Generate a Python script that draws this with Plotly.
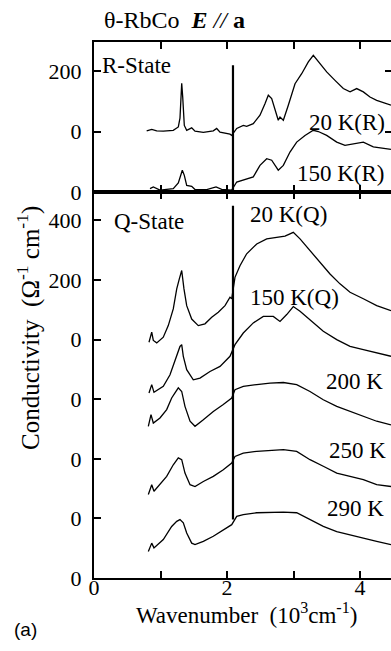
import plotly.graph_objects as go

# ---------------- data (x in 10^3 cm^-1, conductivity in ohm^-1 cm^-1) ----------------
# R-State, 20 K
x_20R = [0.792, 0.868, 0.943, 1.042, 1.192, 1.268, 1.293, 1.319, 1.334, 1.358, 1.394, 1.469, 1.519,
         1.644, 1.794, 1.845, 1.895, 2.045, 2.071,
         2.146, 2.245, 2.296, 2.395, 2.496, 2.571, 2.621, 2.672, 2.722, 2.771, 2.797, 2.847, 2.922,
         3.023, 3.123, 3.223, 3.298, 3.373, 3.499, 3.624, 3.749, 3.850, 3.950, 4.050, 4.150, 4.251,
         4.350, 4.466]
y_20R = [2, 7, 2, 1, 4, 15, 44, 159, 114, 20, 4, 12, 1,
         -3, 2, 10, -2, -9, -13,
         10, 20, 17, 26, 54, 92, 120, 109, 70, 37, 48, 37, 87,
         158, 191, 230, 252, 230, 197, 169, 142, 131, 142, 131, 114, 103,
         96, 87]

# R-State, 150 K
x_150R = [0.842, 0.892, 0.992, 1.192, 1.268, 1.293, 1.328, 1.358, 1.394, 1.469, 1.519, 1.695, 1.835,
          1.920, 2.020, 2.071,
          2.146, 2.245, 2.395, 2.496, 2.597, 2.672, 2.771, 2.847, 2.947, 3.048, 3.173, 3.298, 3.373,
          3.499, 3.650, 3.774, 3.899, 4.050, 4.200, 4.350, 4.466]
y_150R = [11, 17, 6, 11, 30, 50, 72, 55, 22, 19, 8, 8, 17,
          9, 6, 6,
          33, 39, 50, 88, 110, 105, 72, 88, 132, 165, 187, 204, 200,
          187, 165, 154, 160, 165, 149, 144, 141]

# Q-State, 20 K
x_20Q = [0.827, 0.868, 0.892, 0.943, 1.042, 1.117, 1.192, 1.244, 1.283, 1.319, 1.353, 1.394, 1.469,
         1.568, 1.669, 1.770, 1.869, 1.970, 2.045, 2.071,
         2.120, 2.195, 2.296, 2.447, 2.597, 2.747, 2.872, 2.947, 2.997, 3.098, 3.248, 3.398, 3.549,
         3.699, 3.850, 4.050, 4.251, 4.466]
y_20Q = [-9, 25, -3, -11, 8, 47, 103, 170, 204, 232, 170, 114, 69,
         47, 53, 75, 92, 114, 142, 137,
         209, 248, 288, 321, 338, 344, 347, 355, 360, 338, 299, 260, 220,
         187, 159, 137, 114, 97]

# Q-State, 150 K
x_150Q = [0.827, 0.868, 0.902, 1.042, 1.143, 1.244, 1.293, 1.319, 1.343, 1.394, 1.493, 1.594, 1.744,
          1.895, 2.045,
          2.120, 2.245, 2.395, 2.546, 2.696, 2.797, 2.898, 2.997, 3.098, 3.248, 3.448, 3.650, 3.850,
          4.050, 4.251, 4.466]
y_150Q = [21, 49, 23, 43, 82, 144, 177, 183, 144, 99, 65, 71, 93,
          110, 144,
          183, 222, 256, 278, 278, 261, 284, 311, 295, 267, 228, 200, 177,
          166, 155, 144]

# 200 K
x_200 = [0.817, 0.857, 0.892, 0.992, 1.093, 1.168, 1.218, 1.268, 1.319, 1.368, 1.444, 1.519, 1.644,
         1.794, 1.944, 2.071,
         2.120, 2.245, 2.447, 2.647, 2.847, 3.048, 3.248, 3.448, 3.650, 3.850, 4.050, 4.251, 4.466]
y_200 = [109, 148, 120, 137, 165, 204, 221, 238, 226, 176, 126, 109, 131,
         159, 182, 204,
         232, 243, 249, 254, 256, 249, 226, 198, 176, 159, 142, 126, 114]

# 250 K
x_250 = [0.817, 0.868, 0.902, 0.992, 1.093, 1.192, 1.268, 1.319, 1.368, 1.444, 1.519, 1.644, 1.794,
         1.944, 2.071,
         2.120, 2.245, 2.447, 2.647, 2.847, 3.048, 3.248, 3.448, 3.650, 3.850, 4.050, 4.251, 4.466]
y_250 = [80, 113, 91, 113, 141, 180, 203, 197, 152, 113, 107, 124, 141,
         163, 186,
         208, 219, 225, 228, 231, 225, 197, 175, 152, 141, 130, 113, 107]

# 290 K
x_290 = [0.817, 0.868, 0.902, 1.042, 1.168, 1.244, 1.293, 1.343, 1.394, 1.469, 1.519, 1.644, 1.794,
         1.944, 2.045, 2.071,
         2.146, 2.245, 2.447, 2.647, 2.847, 3.048, 3.248, 3.448, 3.650, 3.850, 4.050, 4.251, 4.466]
y_290 = [89, 117, 101, 129, 173, 190, 196, 185, 151, 117, 112, 123, 140,
         162, 176, 179,
         207, 213, 219, 220, 221, 219, 196, 173, 156, 146, 134, 123, 112]

# vertical offsets of the stacked spectra
top_names = ["20 K(R)", "150 K(R)"]
top_offsets = [200, 0]
bot_names = ["20 K(Q)", "150 K(Q)", "200 K", "250 K", "290 K"]
bot_offsets = [800, 600, 400, 200, 0]

# detector junction spike (x position and vertical span, in plotted units)
junction_x = 2.09
junction_top_span = [0, 419]
junction_bot_span = [196, 1249]

# axis ticks
x_tickvals = [0, 1, 2, 3, 4]
x_ticktext = ["0", "", "2", "", "4"]
top_tickvals = [0, 200, 400]
top_ticktext = ["0", "0", "200"]
bot_tickvals = [0, 200, 400, 600, 800, 1000, 1200]
bot_ticktext = ["0", "0", "0", "0", "0", "200", "400"]

# ---------------- figure ----------------
W, H = 391, 651
ML, MR, MT, MB = 94, 0, 42, 73
PW, PH = W - ML - MR, H - MT - MB
split = 1 - 150 / PH

SERIF = "Liberation Serif"
line = dict(color="black", width=1.3)

fig = go.Figure()

top_data = [(x_20R, y_20R), (x_150R, y_150R)]
for (xs, ys), name, off in zip(top_data, top_names, top_offsets):
    fig.add_trace(go.Scatter(x=xs, y=[v + off for v in ys], mode="lines", line=line,
                             name=name, xaxis="x2", yaxis="y2", showlegend=False))
fig.add_trace(go.Scatter(x=[junction_x, junction_x], y=junction_top_span, mode="lines",
                         line=dict(color="black", width=2.2), xaxis="x2", yaxis="y2",
                         showlegend=False))

bot_data = [(x_20Q, y_20Q), (x_150Q, y_150Q), (x_200, y_200), (x_250, y_250), (x_290, y_290)]
for (xs, ys), name, off in zip(bot_data, bot_names, bot_offsets):
    fig.add_trace(go.Scatter(x=xs, y=[v + off for v in ys], mode="lines", line=line,
                             name=name, xaxis="x", yaxis="y", showlegend=False))
fig.add_trace(go.Scatter(x=[junction_x, junction_x], y=junction_bot_span, mode="lines",
                         line=dict(color="black", width=2.2), xaxis="x", yaxis="y",
                         showlegend=False))

# empty carrier so the right-hand (mirrored) tick axis of the top panel is drawn
fig.add_trace(go.Scatter(x=[None], y=[None], mode="lines", xaxis="x2", yaxis="y3",
                         showlegend=False, hoverinfo="skip"))

xrange = [0, PW / 66.5]
bot_range = [0, 200 * (split * PH) / 59.6]
top_range = [0, 200 * 150 / 60.5]
axis_common = dict(showline=True, linecolor="black", linewidth=2, ticks="inside", ticklen=7,
                   tickwidth=2, tickcolor="black", showgrid=False, zeroline=False,
                   tickfont=dict(family=SERIF, size=22, color="black"))
right_ticks = dict(showline=False, ticks="inside", ticklen=6, tickwidth=2, tickcolor="black",
                   showgrid=False, zeroline=False, showticklabels=False, side="right")

fig.update_layout(
    width=W, height=H,
    margin=dict(l=ML, r=MR, t=MT, b=MB, pad=0),
    paper_bgcolor="white", plot_bgcolor="white",
    showlegend=False,
    xaxis=dict(domain=[0, 1], range=xrange, anchor="y", tickvals=x_tickvals, ticktext=x_ticktext,
               mirror="ticks", ticklabelstandoff=-11, **axis_common),
    yaxis=dict(domain=[0, split], range=bot_range,
               anchor="x", tickvals=bot_tickvals, ticktext=bot_ticktext, ticklabelstandoff=6,
               **axis_common),
    xaxis2=dict(domain=[0, 1], range=xrange, anchor="y2", tickvals=x_tickvals, showticklabels=False,
                mirror="ticks", **axis_common),
    yaxis2=dict(domain=[split, 1], range=top_range, anchor="x2", tickvals=top_tickvals,
                ticktext=top_ticktext, ticklabelstandoff=6, **axis_common),
    yaxis3=dict(overlaying="y2", anchor="x2", range=top_range, tickvals=top_tickvals, **right_ticks),
)


def px2paper(px, py):
    return (px - ML) / PW, (H - MB - py) / PH


def label(text, px, py, xanchor="left", size=23, family=SERIF, angle=0):
    x, y = px2paper(px, py)
    fig.add_annotation(text=text, x=x, y=y, xref="paper", yref="paper", xanchor=xanchor,
                       yanchor="middle", showarrow=False, textangle=angle,
                       font=dict(family=family, size=size, color="black"), borderpad=0,
                       bgcolor="rgba(0,0,0,0)")


label("R-State", 101, 65)
label("20 K(R)", 386, 122, "right")
label("150 K(R)", 386, 173, "right")
label("Q-State", 113, 221)
label("20 K(Q)", 249, 215)
label("150 K(Q)", 249, 297)
label("200 K", 384, 382, "right")
label("250 K", 387, 450, "right")
label("290 K", 385, 508, "right")
label("θ-RbCo&nbsp;&nbsp;<b><i>E</i></b> <i>//</i> <b>a</b>", 174, 20, "center", size=24)
label("Wavenumber&nbsp;&nbsp;(10<sup>3</sup>cm<sup>-1</sup>)", 246, 613, "center", size=23)
label("Conductivity&nbsp;&nbsp;(Ω<sup>-1</sup> cm<sup>-1</sup>)", 29, 328, "center", size=25, angle=-90)
label("(a)", 13, 629, "left", size=19, family="Liberation Sans")

fig.write_html("out.html")
